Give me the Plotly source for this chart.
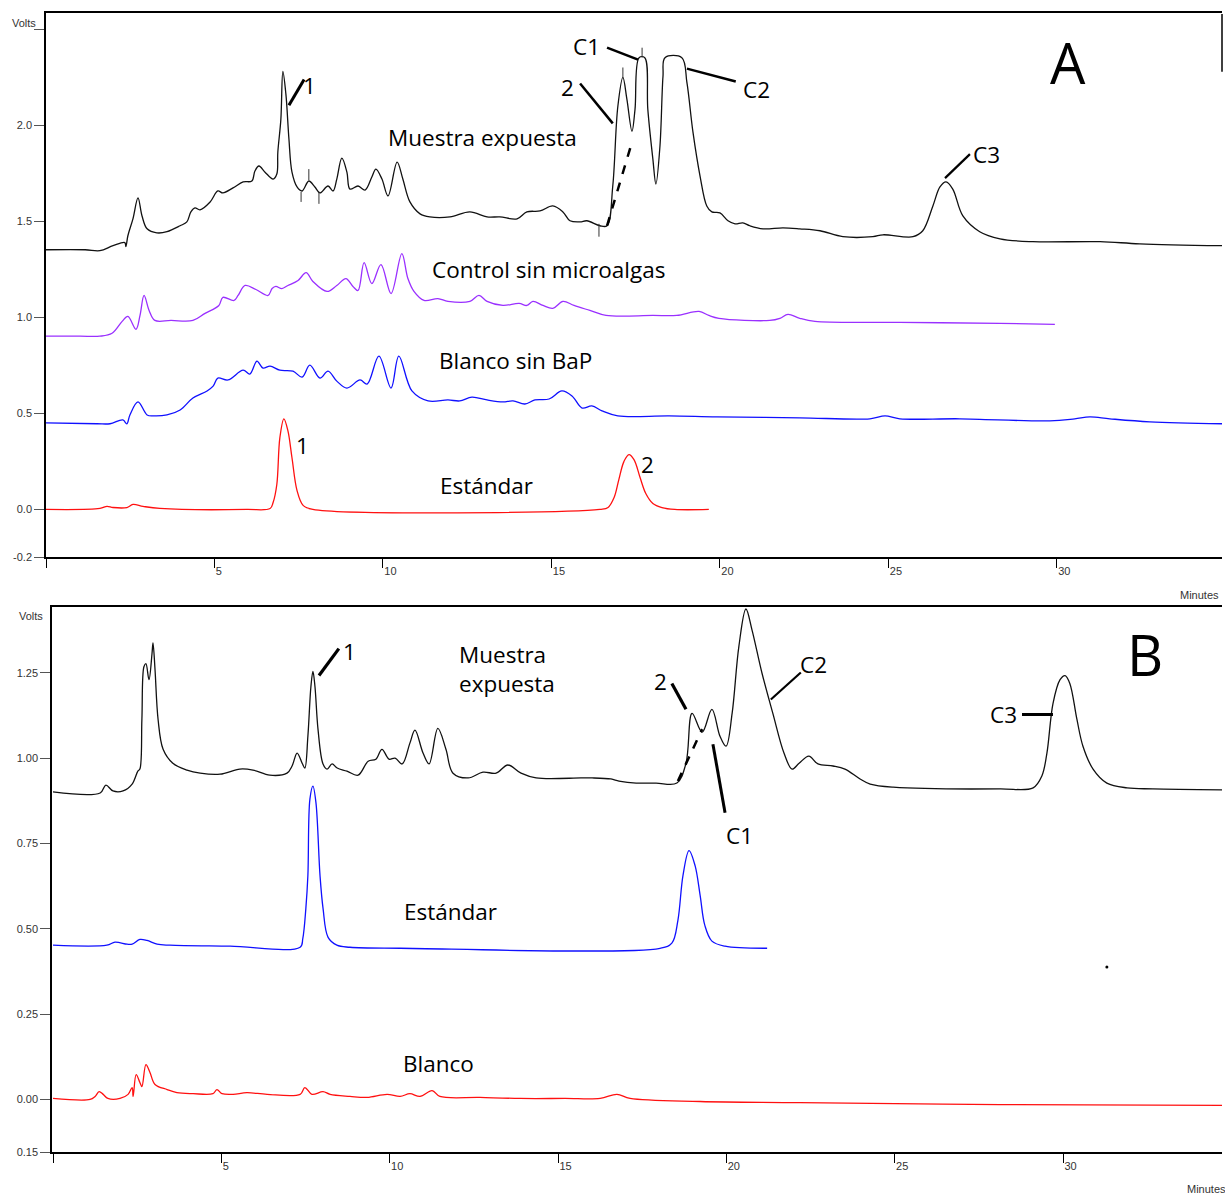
import plotly.graph_objects as go

# ---------------- Panel A: retention time (min) / detector response (V) ----------------
a_exp_t = [0.00, 1.16, 1.60, 1.99, 2.34, 2.37, 2.43, 2.58, 2.73, 2.85, 3.00, 3.29, 3.59, 3.98,
           4.18, 4.30, 4.42, 4.57, 4.87, 5.10, 5.25, 5.55, 5.85, 6.11, 6.20, 6.32, 6.50, 6.74,
           6.85, 6.88, 6.97, 7.03, 7.12, 7.21, 7.30, 7.45, 7.60, 7.80, 7.98, 8.13, 8.37, 8.52,
           8.63, 8.78, 8.93, 9.02, 9.26, 9.47, 9.67, 9.79, 9.97, 10.15, 10.42, 10.59, 10.80,
           11.10, 11.39, 11.99, 12.58, 13.09, 13.47, 13.98, 14.27, 14.66, 15.04, 15.34, 15.55,
           15.85, 16.05, 16.44, 16.65, 16.82, 16.97, 17.12, 17.24, 17.39, 17.48, 17.60, 17.77,
           17.86, 18.01, 18.10, 18.22, 18.31, 18.37, 18.87, 19.02, 19.20, 19.41, 19.61, 19.76,
           20.00, 20.24, 20.45, 20.68, 20.89, 21.28, 21.87, 22.37, 22.97, 23.65, 24.54, 24.84,
           25.73, 26.02, 26.32, 26.53, 26.71, 26.91, 27.21, 27.71, 28.31, 29.29, 31.28, 32.46,
           34.93]
a_exp_v = [1.352, 1.352, 1.347, 1.373, 1.389, 1.368, 1.425, 1.513, 1.622, 1.528, 1.461, 1.440,
           1.446, 1.477, 1.497, 1.549, 1.570, 1.560, 1.601, 1.658, 1.648, 1.674, 1.705, 1.710,
           1.762, 1.788, 1.756, 1.720, 1.746, 1.860, 2.031, 2.280, 2.161, 1.927, 1.756, 1.679,
           1.658, 1.710, 1.679, 1.648, 1.684, 1.658, 1.720, 1.829, 1.756, 1.668, 1.684, 1.663,
           1.731, 1.772, 1.720, 1.632, 1.808, 1.720, 1.601, 1.539, 1.523, 1.523, 1.549, 1.523,
           1.523, 1.513, 1.549, 1.554, 1.580, 1.549, 1.503, 1.497, 1.503, 1.477, 1.477, 1.684,
           2.098, 2.249, 2.135, 1.969, 2.083, 2.352, 2.352, 2.083, 1.824, 1.694, 1.891, 2.254,
           2.352, 2.352, 2.223, 1.964, 1.736, 1.580, 1.549, 1.544, 1.503, 1.487, 1.492, 1.477,
           1.461, 1.466, 1.461, 1.451, 1.420, 1.420, 1.430, 1.420, 1.451, 1.580, 1.679, 1.705,
           1.668, 1.528, 1.446, 1.409, 1.394, 1.394, 1.383, 1.373]

a_ctrl_t = [0.00, 1.01, 1.60, 1.96, 2.26, 2.43, 2.67, 2.79, 2.91, 3.06, 3.23, 3.71, 4.36, 4.72,
            5.13, 5.25, 5.58, 5.70, 5.91, 6.23, 6.59, 6.71, 6.82, 7.00, 7.18, 7.48, 7.72, 7.92,
            8.34, 8.63, 8.90, 9.11, 9.26, 9.44, 9.67, 9.94, 10.24, 10.56, 10.74, 10.92, 11.22,
            11.63, 11.93, 12.58, 12.85, 13.09, 13.56, 14.04, 14.27, 14.45, 14.75, 15.04, 15.34,
            15.67, 16.14, 16.62, 18.01, 18.72, 19.38, 19.67, 19.97, 21.48, 21.78, 22.02, 22.37,
            22.82, 25.34, 28.31, 29.94]
a_ctrl_v = [0.902, 0.902, 0.902, 0.917, 0.979, 1.005, 0.938, 1.010, 1.114, 1.036, 0.984, 0.984,
            0.984, 1.021, 1.062, 1.104, 1.088, 1.114, 1.166, 1.145, 1.114, 1.150, 1.161, 1.150,
            1.166, 1.192, 1.233, 1.187, 1.135, 1.166, 1.202, 1.161, 1.140, 1.285, 1.176, 1.275,
            1.124, 1.332, 1.202, 1.135, 1.088, 1.098, 1.083, 1.083, 1.114, 1.083, 1.062, 1.073,
            1.062, 1.083, 1.062, 1.047, 1.083, 1.062, 1.036, 1.010, 1.010, 1.010, 1.031, 1.010,
            0.995, 0.984, 0.995, 1.016, 0.995, 0.979, 0.974, 0.969, 0.964]

a_blank_t = [0.00, 1.51, 1.90, 2.28, 2.40, 2.49, 2.73, 3.00, 3.18, 3.59, 3.98, 4.36, 4.78, 4.96,
             5.10, 5.40, 5.85, 6.05, 6.26, 6.44, 6.65, 6.94, 7.33, 7.60, 7.83, 8.13, 8.37, 8.63,
             8.93, 9.32, 9.53, 9.88, 10.24, 10.47, 10.86, 11.34, 11.93, 12.28, 12.64, 13.09,
             13.56, 13.86, 14.21, 14.51, 14.93, 15.31, 15.61, 15.91, 16.20, 16.50, 16.97, 18.49,
             19.91, 22.37, 24.45, 24.90, 25.34, 27.12, 29.79, 30.53, 30.98, 31.57, 32.76, 34.90]
a_blank_v = [0.451, 0.446, 0.446, 0.466, 0.446, 0.492, 0.560, 0.492, 0.487, 0.492, 0.518, 0.580,
             0.617, 0.642, 0.684, 0.674, 0.725, 0.705, 0.772, 0.736, 0.746, 0.725, 0.720, 0.689,
             0.751, 0.684, 0.720, 0.668, 0.632, 0.674, 0.653, 0.798, 0.632, 0.798, 0.617, 0.565,
             0.570, 0.565, 0.585, 0.570, 0.560, 0.565, 0.549, 0.570, 0.575, 0.617, 0.591, 0.528,
             0.539, 0.513, 0.487, 0.487, 0.482, 0.477, 0.472, 0.487, 0.472, 0.472, 0.461, 0.472,
             0.482, 0.472, 0.456, 0.446]

a_std_t = [0.00, 1.60, 1.81, 1.99, 2.40, 2.58, 2.88, 3.38, 5.96, 6.65, 6.74, 6.85, 6.94, 7.06,
           7.18, 7.30, 7.45, 7.63, 7.92, 16.44, 16.68, 16.86, 17.00, 17.15, 17.30, 17.45, 17.63,
           17.80, 18.01, 18.28, 18.66, 19.67]
a_std_v = [0.000, 0.005, 0.016, 0.010, 0.010, 0.026, 0.016, 0.005, 0.000, 0.005, 0.036, 0.130,
           0.373, 0.472, 0.409, 0.269, 0.098, 0.021, 0.000, 0.000, 0.010, 0.062, 0.155, 0.249,
           0.285, 0.259, 0.166, 0.083, 0.031, 0.010, 0.000, 0.000]

# integration event marks on the exposed-sample trace: (time, from, to)
a_events = [(7.57, 1.653, 1.601), (7.80, 1.772, 1.715), (8.10, 1.653, 1.591),
            (16.41, 1.487, 1.420), (17.12, 2.301, 2.249), (17.69, 2.404, 2.352)]

# ---------------- Panel B ----------------
b_exp_t = [0.00, 1.40, 1.57, 1.78, 2.08, 2.35, 2.52, 2.58, 2.64, 2.70, 2.76, 2.85, 2.94, 2.97,
           3.03, 3.12, 3.27, 3.56, 3.98, 4.37, 4.96, 5.55, 5.94, 6.44, 6.95, 7.10, 7.25, 7.40,
           7.48, 7.57, 7.66, 7.72, 7.78, 7.87, 8.02, 8.14, 8.29, 8.44, 8.73, 9.06, 9.36, 9.59,
           9.77, 9.98, 10.16, 10.37, 10.60, 10.75, 10.99, 11.17, 11.43, 11.67, 11.88, 12.33,
           12.77, 13.16, 13.51, 13.90, 14.35, 15.68, 16.01, 16.57, 16.81, 17.32, 17.91, 18.53,
           18.80, 18.98, 19.28, 19.57, 19.81, 19.99, 20.17, 20.37, 20.58, 20.76, 21.06, 21.38,
           21.71, 21.95, 22.16, 22.45, 22.72, 23.17, 23.52, 23.97, 24.27, 24.95, 28.13, 29.11,
           29.37, 29.52, 29.70, 29.91, 30.06, 30.20, 30.41, 30.59, 30.89, 31.30, 31.90, 32.67,
           34.78]
b_exp_v = [0.901, 0.898, 0.921, 0.904, 0.904, 0.924, 0.962, 0.968, 1.114, 1.268, 1.277, 1.230,
           1.306, 1.338, 1.259, 1.114, 1.026, 0.985, 0.965, 0.956, 0.953, 0.968, 0.965, 0.950,
           0.956, 0.977, 1.015, 0.985, 0.971, 1.064, 1.210, 1.254, 1.210, 1.085, 0.983, 0.968,
           0.983, 0.971, 0.962, 0.950, 0.991, 0.997, 1.026, 0.997, 1.000, 0.983, 1.044, 1.082,
           1.015, 0.983, 1.087, 1.026, 0.956, 0.942, 0.959, 0.956, 0.980, 0.956, 0.942, 0.942,
           0.942, 0.939, 0.933, 0.927, 0.927, 0.927, 0.985, 1.131, 1.076, 1.143, 1.064, 1.035,
           1.131, 1.327, 1.437, 1.376, 1.248, 1.131, 1.015, 0.968, 0.985, 1.006, 0.983, 0.977,
           0.968, 0.939, 0.924, 0.915, 0.910, 0.913, 0.948, 1.015, 1.160, 1.230, 1.242, 1.219,
           1.114, 1.035, 0.968, 0.927, 0.913, 0.910, 0.907]

b_std_t = [0.00, 1.60, 1.84, 2.20, 2.35, 2.58, 2.79, 3.09, 3.47, 5.26, 7.34, 7.42, 7.51, 7.57,
           7.63, 7.72, 7.81, 7.93, 8.02, 8.17, 8.43, 8.82, 10.31, 18.03, 18.38, 18.56, 18.71,
           18.89, 19.07, 19.22, 19.36, 19.57, 19.96, 21.21]
b_std_v = [0.452, 0.452, 0.461, 0.455, 0.455, 0.469, 0.466, 0.455, 0.452, 0.449, 0.446, 0.472,
           0.560, 0.656, 0.880, 0.918, 0.869, 0.656, 0.560, 0.475, 0.452, 0.446, 0.443, 0.443,
           0.458, 0.525, 0.656, 0.729, 0.685, 0.598, 0.510, 0.464, 0.449, 0.443]

b_blank_t = [0.00, 1.10, 1.25, 1.37, 1.49, 1.63, 1.99, 2.23, 2.35, 2.38, 2.47, 2.58, 2.64, 2.76,
             2.88, 3.03, 3.39, 3.68, 4.16, 4.75, 4.87, 5.02, 5.35, 5.76, 6.36, 7.34, 7.48, 7.69,
             8.02, 8.23, 8.82, 9.33, 9.92, 10.31, 10.60, 10.90, 11.26, 11.49, 12.68, 13.87, 15.21,
             16.25, 16.75, 17.14, 19.22, 22.19, 28.13, 34.72]
b_blank_v = [0.003, 0.000, 0.009, 0.023, 0.015, 0.003, 0.003, 0.015, 0.035, 0.009, 0.073, 0.050,
             0.038, 0.102, 0.079, 0.044, 0.029, 0.020, 0.017, 0.017, 0.029, 0.017, 0.015, 0.020,
             0.015, 0.015, 0.035, 0.015, 0.023, 0.015, 0.009, 0.006, 0.015, 0.009, 0.017, 0.009,
             0.026, 0.009, 0.006, 0.003, 0.003, 0.003, 0.015, 0.003, -0.006, -0.009, -0.015,
             -0.017]

# stray dot on the B record
b_dot_t = [31.30]
b_dot_v = [0.388]

# axis ticks
a_ytick_vals = [2.5, 2.0, 1.5, 1.0, 0.5, 0.0, -0.248]
a_ytick_text = ["", "2.0", "1.5", "1.0", "0.5", "0.0", "-0.2"]
b_ytick_vals = [1.25, 1.00, 0.75, 0.50, 0.25, 0.00, -0.154]
b_ytick_text = ["1.25", "1.00", "0.75", "0.50", "0.25", "0.00", "0.15"]
xtick_vals = [0, 5, 10, 15, 20, 25, 30]
xtick_text = ["", "5", "10", "15", "20", "25", "30"]

BLACK = "#111111"
PURPLE = "#9a30ff"
BLUE = "#1010ff"
RED = "#ff1010"
LABEL_FONT = dict(family="Open Sans", size=22.5, color="black")
BIG_FONT = dict(family="Open Sans", size=56, color="black")
TICK_FONT = dict(family="Liberation Sans", size=11, color="#333333")

fig = go.Figure()

def trace(t, v, color, xa, ya):
    fig.add_trace(go.Scatter(x=t, y=v, mode="lines", xaxis=xa, yaxis=ya,
                             line=dict(color=color, width=1.3, shape="spline", smoothing=1.0),
                             hoverinfo="skip", showlegend=False))

trace(a_exp_t, a_exp_v, BLACK, "x", "y")
trace(a_ctrl_t, a_ctrl_v, PURPLE, "x", "y")
trace(a_blank_t, a_blank_v, BLUE, "x", "y")
trace(a_std_t, a_std_v, RED, "x", "y")
trace(b_exp_t, b_exp_v, BLACK, "x2", "y2")
trace(b_std_t, b_std_v, BLUE, "x2", "y2")
trace(b_blank_t, b_blank_v, RED, "x2", "y2")
fig.add_trace(go.Scatter(x=b_dot_t, y=b_dot_v, mode="markers", xaxis="x2", yaxis="y2",
                         marker=dict(color="black", size=3), hoverinfo="skip", showlegend=False))

# integration marks
for t, v0, v1 in a_events:
    fig.add_shape(type="line", xref="x", yref="y", x0=t, x1=t, y0=v0, y1=v1,
                  line=dict(color="#333333", width=1))

def pointer(x0, y0, x1, y1, xr, yr, w=3, dash=None):
    fig.add_shape(type="line", xref=xr, yref=yr, x0=x0, y0=y0, x1=x1, y1=y1,
                  line=dict(color="black", width=w, dash=dash))

def label(x, y, text, xr, yr, font=LABEL_FONT, **kw):
    fig.add_annotation(x=x, y=y, xref=xr, yref=yr, text=text, showarrow=False,
                       font=font, **kw)

# panel A annotations
pointer(7.21, 2.104, 7.66, 2.238, "x", "y", 3)
pointer(15.85, 2.218, 16.82, 2.010, "x", "y", 2.5)
pointer(16.65, 2.404, 17.57, 2.342, "x", "y", 2.5)
pointer(19.02, 2.295, 20.47, 2.228, "x", "y", 2.5)
pointer(26.68, 1.725, 27.42, 1.850, "x", "y", 2.2)
pointer(16.65, 1.477, 17.39, 1.912, "x", "y", 2.5, "dash")
label(7.83, 2.207, "1", "x", "y")
label(12.94, 1.938, "Muestra expuesta", "x", "y")
label(15.49, 2.197, "2", "x", "y")
label(16.05, 2.409, "C1", "x", "y")
label(21.10, 2.187, "C2", "x", "y")
label(27.92, 1.850, "C3", "x", "y")
label(30.33, 2.332, "A", "x", "y", font=BIG_FONT)
label(14.90, 1.249, "Control sin microalgas", "x", "y")
label(13.92, 0.777, "Blanco sin BaP", "x", "y")
label(7.60, 0.332, "1", "x", "y")
label(13.06, 0.124, "Estándar", "x", "y")
label(17.86, 0.233, "2", "x", "y")

# panel B annotations
pointer(7.90, 1.242, 8.49, 1.321, "x2", "y2", 3.2)
pointer(18.38, 1.219, 18.80, 1.143, "x2", "y2", 3.2)
pointer(19.60, 1.041, 19.96, 0.840, "x2", "y2", 3)
pointer(22.21, 1.251, 21.32, 1.172, "x2", "y2", 2.2)
pointer(28.78, 1.128, 29.70, 1.128, "x2", "y2", 3)
pointer(18.56, 0.933, 19.28, 1.085, "x2", "y2", 2.5, "dash")
label(8.82, 1.312, "1", "x2", "y2")
label(12.00, 1.260, "Muestra<br>expuesta", "x2", "y2", xanchor="left", align="left")
label(18.03, 1.224, "2", "x2", "y2")
label(20.40, 0.773, "C1", "x2", "y2")
label(22.60, 1.274, "C2", "x2", "y2")
label(28.24, 1.128, "C3", "x2", "y2")
label(32.43, 1.306, "B", "x2", "y2", font=BIG_FONT)
label(11.82, 0.551, "Estándar", "x2", "y2")
label(11.46, 0.105, "Blanco", "x2", "y2")

# axis titles in the instrument style
for x, y, txt, xa, ya in [(38 / 1225, 1 - 23 / 1200, "Volts", "right", "middle"),
                          (45 / 1225, 1 - 619 / 1200, "Volts", "right", "middle"),
                          (1221 / 1225, 1 - 598 / 1200, "Minutes", "right", "middle"),
                          (1185 / 1225, 1 - 1195 / 1200, "Minutes", "left", "middle")]:
    fig.add_annotation(x=x, y=y, xref="paper", yref="paper", text=txt, showarrow=False,
                       xanchor=xa, yanchor=ya, font=TICK_FONT)

# short right frame segment on panel A
fig.add_shape(type="line", xref="paper", yref="paper", x0=1222 / 1225, x1=1222 / 1225,
              y0=1 - 14 / 1200, y1=1 - 72 / 1200, line=dict(color="black", width=1.5))

xcommon = dict(showline=True, linecolor="black", linewidth=1.5, mirror=True, ticks="outside",
               ticklen=9, tickwidth=1.2, tickcolor="black", tickvals=xtick_vals,
               ticktext=xtick_text, ticklabelposition="outside right", ticklabelstandoff=3,
               showgrid=False, zeroline=False, tickfont=TICK_FONT)
ycommon = dict(showline=True, linecolor="black", linewidth=1.5, ticks="outside", ticklen=10,
               tickwidth=1.2, tickcolor="#555555", showgrid=False, zeroline=False,
               tickfont=TICK_FONT)

fig.update_layout(
    width=1225, height=1200, margin=dict(l=0, r=0, t=0, b=0),
    paper_bgcolor="white", plot_bgcolor="white", showlegend=False,
    xaxis=dict(domain=[46 / 1225, 1222 / 1225], range=[0, 34.90], anchor="y", **xcommon),
    yaxis=dict(domain=[1 - 560 / 1200, 1 - 13 / 1200], range=[-0.2487, 2.585], anchor="x",
               tickvals=a_ytick_vals, ticktext=a_ytick_text, **ycommon),
    xaxis2=dict(domain=[52 / 1225, 1222 / 1225], range=[-0.03, 34.72], anchor="y2", **xcommon),
    yaxis2=dict(domain=[1 - 1158 / 1200, 1 - 610 / 1200], range=[-0.1545, 1.443], anchor="x2",
                tickvals=b_ytick_vals, ticktext=b_ytick_text, **ycommon),
)

fig.write_html("out.html")
